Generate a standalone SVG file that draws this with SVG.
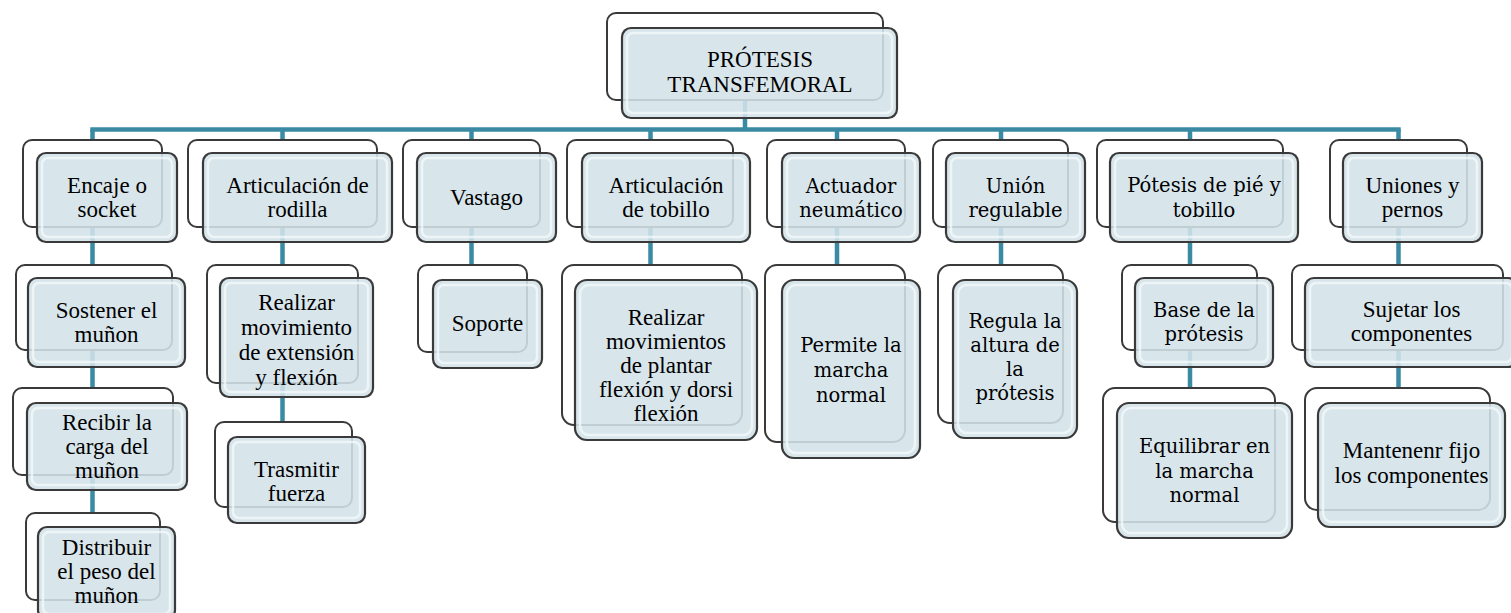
<svg xmlns="http://www.w3.org/2000/svg" width="1511" height="613" viewBox="0 0 1511 613">
<style>
.bk{fill:#ffffff;stroke:#3a3a3a;stroke-width:2}
.fr{fill:#d3e2e9;fill-opacity:0.88;stroke:#3a3a3a;stroke-width:2.2}
.bv{fill:none;stroke:#f4f9fb;stroke-opacity:0.75;stroke-width:2.5}
.ln{stroke:#3a8aa3;stroke-width:4.5;fill:none}
.t{font-family:"Liberation Serif","Times New Roman",serif;font-size:23px;fill:#000;text-anchor:middle}
.c{font-family:"DejaVu Serif",Cambria,serif;font-size:19.5px;fill:#000;text-anchor:middle}
</style>
<rect width="1511" height="613" fill="#ffffff"/>
<g id="connectors">
<line class="ln" x1="745" y1="60" x2="745" y2="129.5"/>
<line class="ln" x1="90.3" y1="129.5" x2="1400.7" y2="129.5"/>
<line class="ln" x1="92.5" y1="129.5" x2="92.5" y2="540"/>
<line class="ln" x1="282.5" y1="129.5" x2="282.5" y2="450"/>
<line class="ln" x1="471.5" y1="129.5" x2="471.5" y2="300"/>
<line class="ln" x1="650.5" y1="129.5" x2="650.5" y2="300"/>
<line class="ln" x1="837" y1="129.5" x2="837" y2="300"/>
<line class="ln" x1="1001" y1="129.5" x2="1001" y2="300"/>
<line class="ln" x1="1190" y1="129.5" x2="1190" y2="420"/>
<line class="ln" x1="1398.5" y1="129.5" x2="1398.5" y2="420"/>
</g>
<g id="root">
<rect class="bk" x="607" y="13" width="276" height="87" rx="9"/>
<rect class="fr" x="622" y="28" width="275" height="90" rx="9"/>
<rect class="bv" x="627" y="33" width="265" height="80" rx="6"/>
<text class="t" x="760" y="67">PRÓTESIS</text>
<text class="t" x="760" y="92">TRANSFEMORAL</text>
</g>
<g id="encaje">
<rect class="bk" x="23" y="140" width="139" height="87" rx="9"/>
<rect class="fr" x="37" y="153" width="140" height="89" rx="9"/>
<rect class="bv" x="42" y="158" width="130" height="79" rx="6"/>
<text class="t" x="107" y="193">Encaje o</text>
<text class="t" x="107" y="217">socket</text>
</g>
<g id="sostener">
<rect class="bk" x="16" y="265" width="156" height="85" rx="9"/>
<rect class="fr" x="28" y="278" width="157" height="89" rx="9"/>
<rect class="bv" x="33" y="283" width="147" height="79" rx="6"/>
<text class="t" x="106.5" y="318">Sostener el</text>
<text class="t" x="106.5" y="342">muñon</text>
</g>
<g id="recibir">
<rect class="bk" x="13" y="388" width="160" height="87" rx="9"/>
<rect class="fr" x="27" y="403" width="160" height="87" rx="9"/>
<rect class="bv" x="32" y="408" width="150" height="77" rx="6"/>
<text class="t" x="107" y="430">Recibir la</text>
<text class="t" x="107" y="454">carga del</text>
<text class="t" x="107" y="478">muñon</text>
</g>
<g id="distribuir">
<rect class="bk" x="26" y="513" width="134" height="87" rx="9"/>
<rect class="fr" x="38" y="527" width="137" height="92" rx="9"/>
<rect class="bv" x="43" y="532" width="127" height="82" rx="6"/>
<text class="t" x="106.5" y="555">Distribuir</text>
<text class="t" x="106.5" y="579">el peso del</text>
<text class="t" x="106.5" y="603">muñon</text>
</g>
<g id="rodilla">
<rect class="bk" x="188" y="140" width="189" height="87" rx="9"/>
<rect class="fr" x="203" y="153" width="189" height="89" rx="9"/>
<rect class="bv" x="208" y="158" width="179" height="79" rx="6"/>
<text class="t" x="297.5" y="193">Articulación de</text>
<text class="t" x="297.5" y="217">rodilla</text>
</g>
<g id="realizar-rodilla">
<rect class="bk" x="207" y="265" width="151" height="118" rx="9"/>
<rect class="fr" x="220" y="278" width="153" height="119" rx="9"/>
<rect class="bv" x="225" y="283" width="143" height="109" rx="6"/>
<text class="t" x="296.5" y="310">Realizar</text>
<text class="t" x="296.5" y="335">movimiento</text>
<text class="t" x="296.5" y="360">de extensión</text>
<text class="t" x="296.5" y="385">y flexión</text>
</g>
<g id="trasmitir">
<rect class="bk" x="215" y="422" width="137" height="85" rx="9"/>
<rect class="fr" x="228" y="437" width="137" height="86" rx="9"/>
<rect class="bv" x="233" y="442" width="127" height="76" rx="6"/>
<text class="t" x="296.5" y="477">Trasmitir</text>
<text class="t" x="296.5" y="501">fuerza</text>
</g>
<g id="vastago">
<rect class="bk" x="403" y="140" width="137" height="87" rx="9"/>
<rect class="fr" x="417" y="153" width="139" height="89" rx="9"/>
<rect class="bv" x="422" y="158" width="129" height="79" rx="6"/>
<text class="t" x="486.5" y="205">Vastago</text>
</g>
<g id="soporte">
<rect class="bk" x="418" y="265" width="109" height="87" rx="9"/>
<rect class="fr" x="433" y="280" width="109" height="88" rx="9"/>
<rect class="bv" x="438" y="285" width="99" height="78" rx="6"/>
<text class="t" x="487.5" y="331">Soporte</text>
</g>
<g id="tobillo">
<rect class="bk" x="567" y="140" width="166" height="87" rx="9"/>
<rect class="fr" x="582" y="153" width="168" height="89" rx="9"/>
<rect class="bv" x="587" y="158" width="158" height="79" rx="6"/>
<text class="t" x="666" y="193">Articulación</text>
<text class="t" x="666" y="217">de tobillo</text>
</g>
<g id="realizar-tobillo">
<rect class="bk" x="562" y="265" width="180" height="160" rx="12"/>
<rect class="fr" x="575" y="280" width="182" height="160" rx="12"/>
<rect class="bv" x="580" y="285" width="172" height="150" rx="9"/>
<text class="t" x="666" y="325">Realizar</text>
<text class="t" x="666" y="349">movimientos</text>
<text class="t" x="666" y="373">de plantar</text>
<text class="t" x="666" y="397">flexión y dorsi</text>
<text class="t" x="666" y="421">flexión</text>
</g>
<g id="actuador">
<rect class="bk" x="767" y="140" width="138" height="87" rx="9"/>
<rect class="fr" x="782" y="153" width="138" height="89" rx="9"/>
<rect class="bv" x="787" y="158" width="128" height="79" rx="6"/>
<text class="c" x="851" y="193">Actuador</text>
<text class="c" x="851" y="217">neumático</text>
</g>
<g id="permite">
<rect class="bk" x="765" y="265" width="140" height="177" rx="12"/>
<rect class="fr" x="782" y="280" width="138" height="178" rx="12"/>
<rect class="bv" x="787" y="285" width="128" height="168" rx="9"/>
<text class="c" x="851" y="352">Permite la</text>
<text class="c" x="851" y="377">marcha</text>
<text class="c" x="851" y="402">normal</text>
</g>
<g id="union">
<rect class="bk" x="933" y="140" width="135" height="87" rx="9"/>
<rect class="fr" x="946" y="153" width="139" height="89" rx="9"/>
<rect class="bv" x="951" y="158" width="129" height="79" rx="6"/>
<text class="c" x="1015.5" y="193">Unión</text>
<text class="c" x="1015.5" y="217">regulable</text>
</g>
<g id="regula">
<rect class="bk" x="938" y="265" width="125" height="158" rx="12"/>
<rect class="fr" x="953" y="280" width="124" height="158" rx="12"/>
<rect class="bv" x="958" y="285" width="114" height="148" rx="9"/>
<text class="c" x="1015" y="328">Regula la</text>
<text class="c" x="1015" y="352">altura de</text>
<text class="c" x="1015" y="376">la</text>
<text class="c" x="1015" y="400">prótesis</text>
</g>
<g id="pie">
<rect class="bk" x="1097" y="140" width="186" height="87" rx="9"/>
<rect class="fr" x="1110" y="153" width="188" height="89" rx="9"/>
<rect class="bv" x="1115" y="158" width="178" height="79" rx="6"/>
<text class="c" x="1204" y="192">Pótesis de pié y</text>
<text class="c" x="1204" y="217">tobillo</text>
</g>
<g id="base">
<rect class="bk" x="1122" y="265" width="135" height="85" rx="9"/>
<rect class="fr" x="1135" y="278" width="138" height="89" rx="9"/>
<rect class="bv" x="1140" y="283" width="128" height="79" rx="6"/>
<text class="c" x="1204" y="317">Base de la</text>
<text class="c" x="1204" y="341">prótesis</text>
</g>
<g id="equilibrar">
<rect class="bk" x="1103" y="388" width="172" height="134" rx="12"/>
<rect class="fr" x="1117" y="403" width="175" height="135" rx="12"/>
<rect class="bv" x="1122" y="408" width="165" height="125" rx="9"/>
<text class="c" x="1204.5" y="453">Equilibrar en</text>
<text class="c" x="1204.5" y="478">la marcha</text>
<text class="c" x="1204.5" y="502">normal</text>
</g>
<g id="uniones">
<rect class="bk" x="1330" y="140" width="137" height="87" rx="9"/>
<rect class="fr" x="1343" y="153" width="139" height="89" rx="9"/>
<rect class="bv" x="1348" y="158" width="129" height="79" rx="6"/>
<text class="t" x="1412.5" y="193">Uniones y</text>
<text class="t" x="1412.5" y="217">pernos</text>
</g>
<g id="sujetar">
<rect class="bk" x="1292" y="265" width="211" height="85" rx="9"/>
<rect class="fr" x="1305" y="278" width="212" height="89" rx="9"/>
<rect class="bv" x="1310" y="283" width="202" height="79" rx="6"/>
<text class="t" x="1411.5" y="317">Sujetar los</text>
<text class="t" x="1411.5" y="341">componentes</text>
</g>
<g id="mantener">
<rect class="bk" x="1305" y="388" width="185" height="122" rx="12"/>
<rect class="fr" x="1318" y="403" width="187" height="124" rx="12"/>
<rect class="bv" x="1323" y="408" width="177" height="114" rx="9"/>
<text class="t" x="1411.5" y="458">Mantenenr fijo</text>
<text class="t" x="1411.5" y="483">los componentes</text>
</g>
</svg>
